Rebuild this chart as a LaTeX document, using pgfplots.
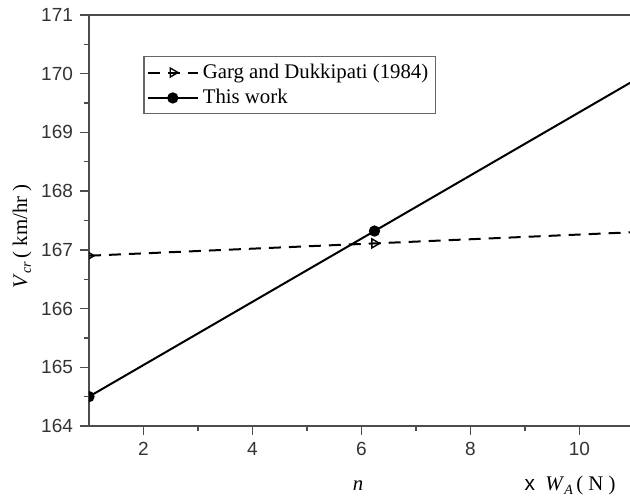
\documentclass[border=0pt]{standalone}
\usepackage{fontspec}
\setmainfont{Liberation Serif}
\setsansfont{Liberation Sans}
\usepackage{pgfplots}
\pgfplotsset{compat=1.18}
\begin{document}
\begin{tikzpicture}
\begin{axis}[
  scale only axis, width=270.5pt, height=205.5pt,
  xmin=1, xmax=10.93, ymin=164, ymax=171,
  axis x line*=box, axis y line*=left,
  xtick={2,4,6,8,10}, ytick={164,165,...,171},
  minor x tick num=1, minor y tick num=1,
  tick pos=left, tick align=outside,
  major tick length=4.5pt, minor tick length=2.5pt,
  axis line style={line width=0.8pt, black!70},
  every tick/.style={line width=0.7pt, black!70},
  tick label style={font=\sffamily\fontsize{9.5}{11}\selectfont, text=black!80},
  /pgf/number format/assume math mode=true,
  clip mode=individual, clip marker paths=true,
  legend style={at={(0.1,0.9)}, anchor=north west, draw=black!60, line width=0.7pt,
    font=\fontsize{10.4}{12.5}\selectfont, inner sep=1.5pt, cells={anchor=west}},
  legend image code/.code={\draw[mark repeat=2, mark phase=2, #1] plot coordinates {(0pt,0pt) (12.5pt,0pt) (25pt,0pt)};},
]
\addplot[black, line width=1pt, dash pattern=on 6pt off 4pt, mark=triangle, mark size=2.6pt,
  mark options={solid, rotate=-90, fill=white, line width=0.7pt}]
  coordinates {(1,166.9) (6.24,167.11) (11.48,167.32)};
\addlegendentry{Garg and Dukkipati (1984)}
\addplot[black, line width=1pt, mark=*, mark size=2.3pt, mark options={solid}]
  coordinates {(1,164.5) (6.24,167.32) (11.48,170.14)};
\addlegendentry{This work}
\end{axis}
\node[rotate=90, anchor=center, font=\fontsize{10.4}{12}\selectfont]
  at ([xshift=-33.5pt, yshift=94.9pt]current axis.south west)
  {\textit{V}\raisebox{-0.4ex}{\scriptsize\itshape cr}\,( km/hr )};
\node[anchor=base, font=\fontsize{10.4}{12}\selectfont]
  at ([xshift=134.5pt, yshift=-32.5pt]current axis.south west) {\textit{n}};
\node[anchor=base east, font=\fontsize{10.4}{12}\selectfont, inner sep=0pt]
  at ([xshift=263.5pt, yshift=-32.5pt]current axis.south west)
  {{\sffamily x}\enspace\textit{W}\raisebox{-0.4ex}{\scriptsize\itshape A}\,( N )};
\pgfresetboundingbox
\path ([xshift=-44.5pt, yshift=-36.5pt]current axis.south west) rectangle ([yshift=7.5pt]current axis.north east);
\end{tikzpicture}
\end{document}
